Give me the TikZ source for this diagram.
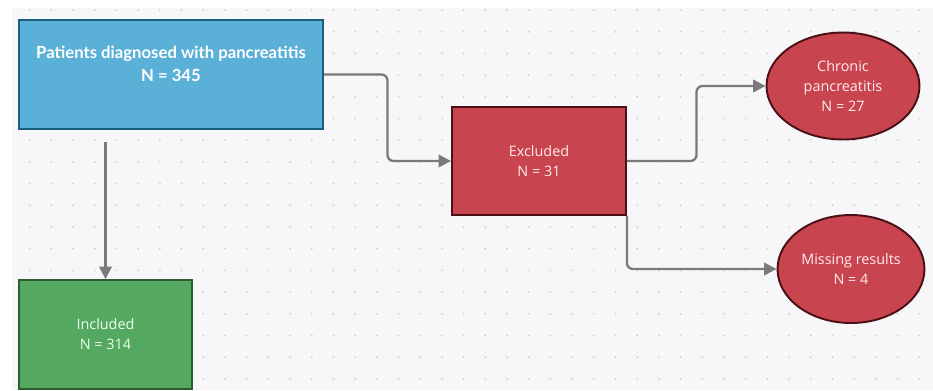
\documentclass[tikz,border=0pt]{standalone}
\usepackage{fontspec}
\setmainfont{Open Sans}
\newfontfamily\latofont{Lato}
\usetikzlibrary{arrows.meta,shapes.geometric}
\definecolor{paper}{HTML}{F7F7F9}
\definecolor{griddot}{HTML}{D2D2DA}
\definecolor{boxblue}{HTML}{5BB0D8}
\definecolor{edgeblue}{HTML}{1A5E7E}
\definecolor{boxred}{HTML}{C8444F}
\definecolor{edgered}{HTML}{4A1015}
\definecolor{boxgreen}{HTML}{55A860}
\definecolor{edgegreen}{HTML}{2A5E30}
\definecolor{linegray}{HTML}{7A7A7A}
\begin{document}
\begin{tikzpicture}[x=0.02cm, y=-0.02cm,
    box/.style={draw, line width=1.1pt, text=white, align=center, inner sep=2pt},
    small/.style={font=\fontsize{8.2}{11.3}\selectfont},
    oval/.style={ellipse, draw=edgered, fill=boxred, line width=1.1pt, inner sep=0pt, text=white!92!red, align=center, small},
    arr/.style={draw=linegray, line width=1.3pt, rounded corners=0.12cm, -{Triangle[length=0.25cm, width=0.25cm]}}]
        %\draw [help lines] (0,0) grid (933,390);
        \useasboundingbox (0,0) rectangle (933,390);
        \fill[paper] (12,8) rectangle (933,390);
        % dotted canvas
        \foreach \i in {0,...,41}
            \foreach \j in {0,...,17}
                \fill[griddot] (29.6+21.7*\i, 10+21.7*\j) circle [radius=0.022cm];

        % the main figure starts
        \node[box, draw=edgeblue, fill=boxblue, minimum width=6.08cm, minimum height=2.18cm,
              font=\latofont\bfseries\fontsize{9.5}{13}\selectfont] (patients) at (171,74.5)
              {Patients diagnosed with pancreatitis\\N = 345\\[-0.6pt]};
        \node[box, draw=edgered, fill=boxred, minimum width=3.48cm, minimum height=2.16cm,
              text=white!92!red, small] (excluded) at (539,161)
              {Excluded\\N = 31};
        \node[box, draw=edgegreen, fill=boxgreen, minimum width=3.46cm, minimum height=2.18cm,
              text=white!92!green, small] (included) at (105.5,334.5)
              {Included\\N = 314};
        \node[oval, minimum width=3.06cm, minimum height=2.14cm] (chronic) at (843,86)
              {Chronic\\pancreatitis\\N = 27};
        \node[oval, minimum width=2.94cm, minimum height=2.16cm] (missing) at (851,269)
              {Missing results\\N = 4};

        % connectors
        \draw[arr] (patients.east) -| (387.5,161) -- (excluded.west);
        \draw[arr] (excluded.east) -| (696.5,86) -- (chronic.west);
        \draw[arr] (excluded.south east) |- (missing.west);
        \draw[arr, shorten <=0.24cm] (patients.south -| included.north) -- (included.north);
\end{tikzpicture}
\end{document}
